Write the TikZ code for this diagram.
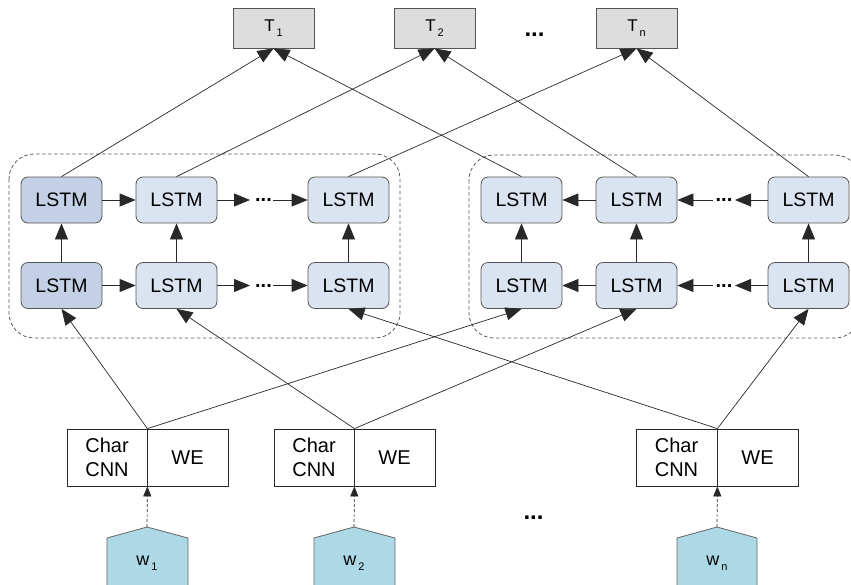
\documentclass[tikz,border=0pt]{standalone}
\usepackage{fontspec}
\setmainfont{Liberation Sans}
\usetikzlibrary{arrows.meta,calc}
\definecolor{lstmdark}{RGB}{195,208,230}
\definecolor{lstmlight}{RGB}{218,227,240}
\definecolor{tgray}{RGB}{221,221,221}
\definecolor{wblue}{RGB}{173,216,230}
\definecolor{edgec}{RGB}{40,40,40}
\definecolor{boxc}{RGB}{85,85,85}
\newcommand{\mysub}[2]{#1\hspace{2pt}\raisebox{-5pt}{\fontsize{11}{11}\selectfont #2}}
\begin{document}
\begin{tikzpicture}[x=1pt,y=-1pt,
  lstm/.style={draw=boxc, fill=lstmlight, rounded corners=7pt, minimum width=81pt, minimum height=46pt, inner sep=0pt, font=\fontsize{19.5}{23}\selectfont, line width=0.8pt},
  lstmd/.style={lstm, fill=lstmdark},
  tbox/.style={draw=boxc, fill=tgray, minimum width=81pt, minimum height=40pt, inner sep=0pt, font=\fontsize{17}{19}\selectfont, line width=0.8pt},
  half/.style={draw=edgec, fill=white, minimum height=57pt, inner sep=0pt, font=\fontsize{20}{24}\selectfont, align=center, line width=0.8pt},
  arr/.style={draw=edgec, line width=0.8pt, -{Triangle[length=16pt,width=13pt]}},
  conn/.style={draw=edgec, line width=0.7pt, -{Triangle[length=16pt,width=13pt]}},
  darr/.style={draw=edgec, line width=0.7pt, dash pattern=on 3pt off 2pt, -{Triangle[length=10pt,width=8pt]}},
  group/.style={draw=gray!70!black, dash pattern=on 3.5pt off 2.5pt, rounded corners=25pt, line width=0.8pt},
  word/.style={draw=gray!80!black, fill=wblue, line width=0.8pt},
  wlabel/.style={font=\fontsize{18}{20}\selectfont, inner sep=0pt},
  bigdots/.style={font=\fontsize{24}{24}\selectfont\bfseries, inner sep=0pt, anchor=base},
  smalldots/.style={font=\fontsize{20}{20}\selectfont\bfseries, inner sep=0pt, anchor=base}
]
\useasboundingbox (0,0) rectangle (851,584);

% dashed groups
\draw[group] (9,154) rectangle (400,338);
\draw[group] (469,155) rectangle (860,338);

% outputs
\node[tbox] (t1) at (273.5,28) {\mysub{T}{1}};
\node[tbox] (t2) at (434.5,28) {\mysub{T}{2}};
\node[tbox] (tn) at (636.5,28) {\mysub{T}{n}};
\node[bigdots] (tdots) at (534.5,36) {...};

% left LSTMs
\node[lstmd] (l1t) at (61.5,200) {LSTM};
\node[lstm]  (l2t) at (176.5,200) {LSTM};
\node[lstm]  (l3t) at (348.5,200) {LSTM};
\node[lstmd] (l1b) at (61.5,285.5) {LSTM};
\node[lstm]  (l2b) at (176.5,285.5) {LSTM};
\node[lstm]  (l3b) at (348.5,285.5) {LSTM};
% right LSTMs
\node[lstm] (r1t) at (521.5,200) {LSTM};
\node[lstm] (r2t) at (636.5,200) {LSTM};
\node[lstm] (r3t) at (808.5,200) {LSTM};
\node[lstm] (r1b) at (521.5,285.5) {LSTM};
\node[lstm] (r2b) at (636.5,285.5) {LSTM};
\node[lstm] (r3b) at (808.5,285.5) {LSTM};

% left horizontal
\coordinate (lta) at (250,200);
\coordinate (ltb) at (273,200);
\coordinate (lba) at (250,285.5);
\coordinate (lbb) at (273,285.5);
\draw[arr] (l1t.east) -- (l2t.west);
\draw[arr] (l2t.east) -- (lta);
\node[smalldots] (ltd) at (263.5,201) {...};
\draw[arr] (ltb) -- (l3t.west);
\draw[arr] (l1b.east) -- (l2b.west);
\draw[arr] (l2b.east) -- (lba);
\node[smalldots] (lbd) at (263.5,287) {...};
\draw[arr] (lbb) -- (l3b.west);
% right horizontal
\coordinate (rta) at (713,200);
\coordinate (rtb) at (735,200);
\coordinate (rba) at (713,285.5);
\coordinate (rbb) at (735,285.5);
\draw[arr] (r2t.west) -- (r1t.east);
\draw[arr] (rta) -- (r2t.east);
\node[smalldots] (rtd) at (724,201) {...};
\draw[arr] (r3t.west) -- (rtb);
\draw[arr] (r2b.west) -- (r1b.east);
\draw[arr] (rba) -- (r2b.east);
\node[smalldots] (rbd) at (724,287) {...};
\draw[arr] (r3b.west) -- (rbb);

% vertical
\foreach \c in {l1,l2,l3,r1,r2,r3}{
  \draw[arr] (\c b.north) -- (\c t.south);
}

% outputs connectors
\draw[conn] (l1t.north) -- (t1.south);
\draw[conn] (r1t.north) -- (t1.south);
\draw[conn] (l2t.north) -- (t2.south);
\draw[conn] (r2t.north) -- (t2.south);
\draw[conn] (l3t.north) -- (tn.south);
\draw[conn] (r3t.north) -- (tn.south);

% embedding boxes
\node[half, minimum width=80pt] (c1) at (107,457.5) {Char\\CNN};
\node[half, minimum width=81pt] (e1) at (187.5,457.5) {WE};
\node[half, minimum width=80pt] (c2) at (314,457.5) {Char\\CNN};
\node[half, minimum width=81pt] (e2) at (394.5,457.5) {WE};
\node[half, minimum width=81pt] (c3) at (676.5,457.5) {Char\\CNN};
\node[half, minimum width=81pt] (e3) at (757.5,457.5) {WE};
\node[bigdots] (bdots) at (533.5,519) {...};

% inputs connectors
\draw[conn] (c1.north east) -- (l1b.south);
\draw[conn] (c1.north east) -- (r1b.south);
\draw[conn] (c2.north east) -- (l2b.south);
\draw[conn] (c2.north east) -- (r2b.south);
\draw[conn] (c3.north east) -- (l3b.south);
\draw[conn] (c3.north east) -- (r3b.south);

% words
\draw[word] (107,592) -- (107,538) -- (147,527) -- (188,538) -- (188,592) -- cycle;
\coordinate (w1top) at (147,527);
\node[wlabel] (w1) at (147,563) {\mysub{w}{1}};
\draw[word] (314,592) -- (314,538) -- (354,527) -- (395,538) -- (395,592) -- cycle;
\coordinate (w2top) at (354,527);
\node[wlabel] (w2) at (354,563) {\mysub{w}{2}};
\draw[word] (677,592) -- (677,538) -- (717,527) -- (757,538) -- (757,592) -- cycle;
\coordinate (wntop) at (717,527);
\node[wlabel] (wn) at (717,563) {\mysub{w}{n}};

\draw[darr] (w1top) -- (c1.south east);
\draw[darr] (w2top) -- (c2.south east);
\draw[darr] (wntop) -- (c3.south east);
\end{tikzpicture}
\end{document}
